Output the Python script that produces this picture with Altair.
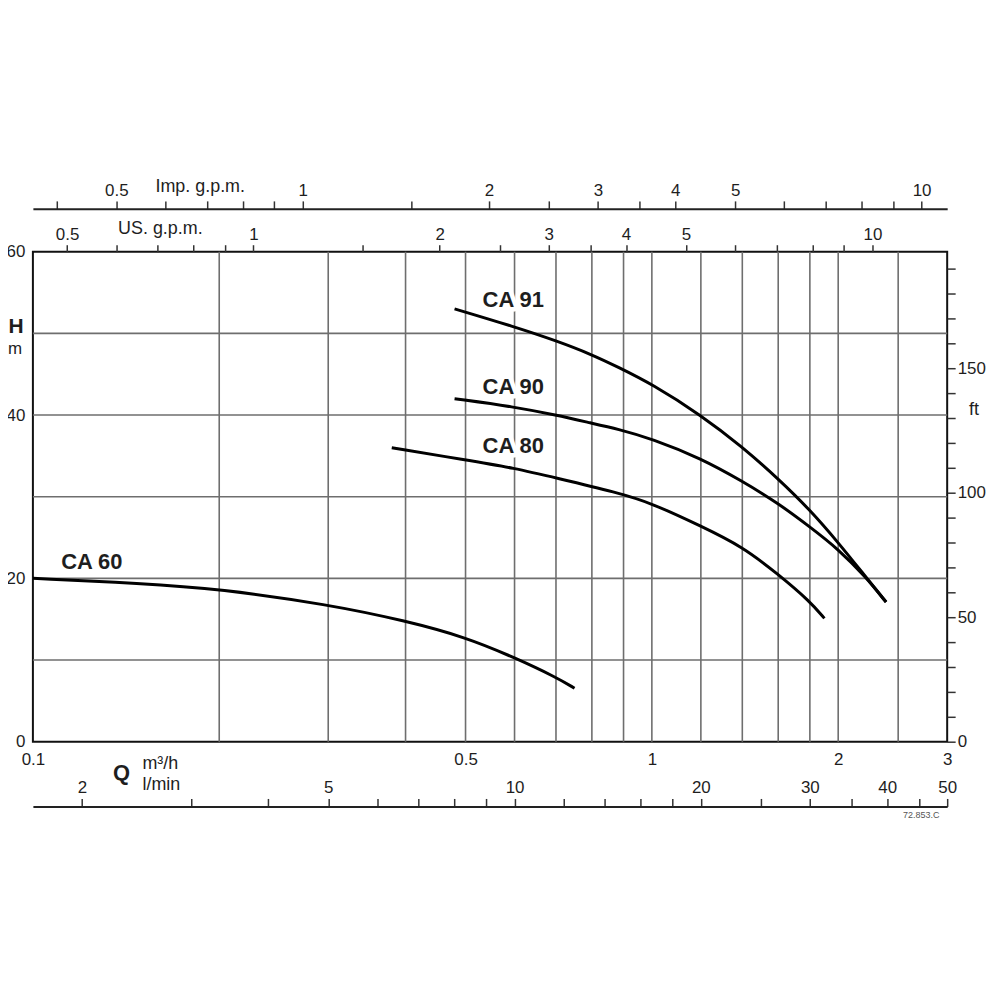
import altair as alt
import pandas as pd

# ---------------- data ----------------
q_grid = [0.2, 0.3, 0.4, 0.5, 0.6, 0.7, 0.8, 0.9, 1, 1.2, 1.4, 1.6, 1.8, 2, 2.5]
h_grid = [10, 20, 30, 40, 50]
q_labels = [0.1, 0.5, 1, 2, 3]
h_ticks = [0, 10, 20, 30, 40, 50, 60]
h_labels = [0, 20, 40, 60]

ft_ticks = [0, 10, 20, 30, 40, 50, 60, 70, 80, 90, 100, 110, 120, 130, 140, 150, 160, 170, 180, 190]
ft_labels = [0, 50, 100, 150]

us_ticks = [0.5, 0.6, 0.7, 0.8, 0.9, 1, 1.5, 2, 2.5, 3, 3.5, 4, 5, 6, 7, 8, 9, 10]
us_labels = [0.5, 1, 2, 3, 4, 5, 10]
imp_ticks = [0.4, 0.5, 0.6, 0.7, 0.8, 0.9, 1, 1.5, 2, 2.5, 3, 3.5, 4, 5, 6, 7, 8, 9, 10]
imp_labels = [0.5, 1, 2, 3, 4, 5, 10]
lpm_ticks = [2, 3, 4, 5, 6, 7, 8, 9, 10, 12, 14, 16, 18, 20, 25, 30, 35, 40, 45, 50]
lpm_labels = [2, 5, 10, 20, 30, 40, 50]

# unit conversions (per m3/h)
US_GPM = 4.4029
IMP_GPM = 3.6662
L_MIN = 16.6667
M_PER_FT = 0.3048

# pump curves  Q [m3/h], H [m]
ca60_q = [0.1, 0.15, 0.2, 0.3, 0.4, 0.5, 0.6, 0.7, 0.75]
ca60_h = [20.0, 19.4, 18.7, 16.8, 14.8, 12.8, 10.3, 7.9, 6.55]
ca80_q = [0.38, 0.5, 0.6, 0.7, 0.88, 1.0, 1.2, 1.4, 1.6, 1.8, 1.9]
ca80_h = [36.0, 34.5, 33.5, 32.3, 30.5, 29.2, 26.4, 23.9, 20.5, 17.2, 15.1]
ca90_q = [0.48, 0.6, 0.7, 0.8, 0.88, 1.0, 1.2, 1.4, 1.6, 1.8, 2.0, 2.22, 2.39]
ca90_h = [42.0, 41.0, 40.0, 39.0, 38.3, 37.1, 34.7, 31.9, 29.2, 26.3, 23.6, 20.1, 17.1]
ca91_q = [0.48, 0.6, 0.7, 0.8, 0.88, 1.0, 1.2, 1.4, 1.6, 1.8, 2.0, 2.22, 2.39]
ca91_h = [53.0, 50.8, 49.1, 47.4, 45.9, 43.8, 40.0, 36.1, 32.2, 28.4, 24.4, 20.1, 17.1]

curve_names = ["CA 60", "CA 80", "CA 90", "CA 91"]
label_q = [0.1245, 0.597, 0.597, 0.597]
label_h = [22.0, 36.2, 43.4, 54.1]

# ---------------- build ----------------
W, H = 918, 492
FONT = "Liberation Sans"
GRID = "#6e6e6e"
INK = "#1e1e1e"
LFS = 17

rows = []
for name, qs, hs in [("CA 60", ca60_q, ca60_h), ("CA 80", ca80_q, ca80_h),
                     ("CA 90", ca90_q, ca90_h), ("CA 91", ca91_q, ca91_h)]:
    for i, (q, h) in enumerate(zip(qs, hs)):
        rows.append({"series": name, "idx": i, "Q": q, "H": h})
curves_df = pd.DataFrame(rows)
labels_df = pd.DataFrame({"name": curve_names, "Q": label_q, "H": label_h})


def lab_expr(vals):
    arr = ",".join(repr(float(v)) for v in vals)
    return f"indexof([{arr}], datum.value) >= 0 ? format(datum.value, '~g') : ''"


common = dict(labelFont=FONT, labelFontSize=LFS, labelColor=INK, labelOverlap=False,
              labelFlush=False, grid=False, title=None)

xs = alt.Scale(type="log", domain=[0.1, 3], nice=False)
ys = alt.Scale(domain=[0, 60], nice=False, zero=False)

x_axis = alt.Axis(orient="bottom", values=q_labels, labelExpr=lab_expr(q_labels), ticks=False,
                  tickSize=0, domain=False, labelPadding=10, **common)
y_axis = alt.Axis(orient="left", values=h_ticks, labelExpr=lab_expr(h_labels), ticks=False,
                  tickSize=0, domain=False, labelPadding=8, **common)


def X():
    return alt.X("Q:Q", scale=xs, axis=x_axis)


def Y():
    return alt.Y("H:Q", scale=ys, axis=y_axis)


vgrid = alt.Chart(pd.DataFrame({"Q": q_grid})).mark_rule(color=GRID, strokeWidth=1.6).encode(x=X())
hgrid = alt.Chart(pd.DataFrame({"H": h_grid})).mark_rule(color=GRID, strokeWidth=1.6).encode(y=Y())

halo = alt.Chart(labels_df).mark_text(font=FONT, fontSize=22, fontWeight="bold", color="white",
                                      stroke="white", strokeWidth=9, strokeJoin="round").encode(
    x=X(), y=Y(), text="name:N")

lines = alt.Chart(curves_df).mark_line(color="black", strokeWidth=3, interpolate="basis").encode(
    x=X(), y=Y(), detail="series:N", order="idx:Q")

names = alt.Chart(labels_df).mark_text(font=FONT, fontSize=22, fontWeight="bold", color=INK).encode(
    x=X(), y=Y(), text="name:N")


def note(txt, x, y, size=18, weight="normal", align="left", color=INK):
    return alt.Chart(pd.DataFrame({"t": [txt]})).mark_text(
        font=FONT, fontSize=size, fontWeight=weight, align=align, baseline="alphabetic",
        color=color).encode(x=alt.value(x), y=alt.value(y), text="t:N")


notes = [
    note("Imp. g.p.m.", 168, -60, align="center"),
    note("US. g.p.m.", 128, -18, align="center"),
    note("H", -17, 82, size=21, weight="bold", align="center"),
    note("m", -18, 103, size=17, align="center"),
    note("Q", 89, 530, size=22, weight="bold", align="center"),
    note("m³/h", 110, 519),
    note("l/min", 110, 541),
    note("ft", 945, 164, align="center"),
    note("72.853.C", 892, 569, size=9, align="center", color="#555"),
]

main = alt.layer(vgrid, hgrid, halo, lines, names, *notes)

tick_style = dict(tickColor="#333", tickWidth=1.5, **common)

ft_layer = alt.Chart(pd.DataFrame({"ft": ft_ticks})).mark_point(opacity=0).encode(
    y=alt.Y("ft:Q", scale=alt.Scale(domain=[0, 60 / M_PER_FT], nice=False, zero=False),
            axis=alt.Axis(orient="right", values=ft_ticks, labelExpr=lab_expr(ft_labels),
                          tickSize=8, domain=False, labelPadding=2, **tick_style)))

us_layer = alt.Chart(pd.DataFrame({"us": us_ticks})).mark_point(opacity=0).encode(
    x=alt.X("us:Q", scale=alt.Scale(type="log", domain=[0.1 * US_GPM, 3 * US_GPM], nice=False),
            axis=alt.Axis(orient="top", values=us_ticks, labelExpr=lab_expr(us_labels),
                          tickSize=7, domain=False, labelPadding=1, **tick_style)))

imp_layer = alt.Chart(pd.DataFrame({"imp": imp_ticks})).mark_point(opacity=0).encode(
    x=alt.X("imp:Q", scale=alt.Scale(type="log", domain=[0.1 * IMP_GPM, 3 * IMP_GPM], nice=False),
            axis=alt.Axis(orient="top", offset=43, values=imp_ticks, labelExpr=lab_expr(imp_labels),
                          tickSize=8, domain=True, domainColor="#222", domainWidth=2,
                          labelPadding=1, **tick_style)))

lpm_layer = alt.Chart(pd.DataFrame({"lpm": lpm_ticks})).mark_point(opacity=0).encode(
    x=alt.X("lpm:Q", scale=alt.Scale(type="log", domain=[0.1 * L_MIN, 3 * L_MIN], nice=False),
            axis=alt.Axis(orient="top", offset=-557, values=lpm_ticks, labelExpr=lab_expr(lpm_labels),
                          tickSize=8, domain=True, domainColor="#222", domainWidth=2,
                          labelPadding=2, **tick_style)))

chart = alt.layer(main, ft_layer, us_layer, imp_layer, lpm_layer).resolve_scale(
    x="independent", y="independent").resolve_axis(x="independent", y="independent").properties(
    width=W, height=H, autosize=alt.AutoSizeParams(type="none"), background="white",
    padding={"left": 25, "top": 243, "right": 45, "bottom": 90}
).configure_view(stroke="#111", strokeWidth=2)

chart.save("out.html", embed_options={"renderer": "svg", "actions": False})
